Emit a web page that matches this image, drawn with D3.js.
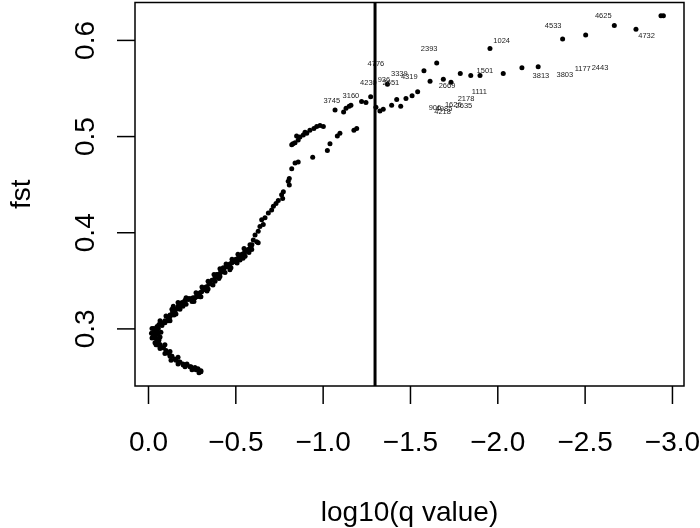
<!DOCTYPE html>
<html>
<head>
<meta charset="utf-8">
<script src="https://cdn.jsdelivr.net/npm/d3@7"></script>
<style>
  body { margin: 0; background: #fff; }
  svg { will-change: transform; }
  text { font-family: "Liberation Sans", Arial, Helvetica, sans-serif; }
</style>
</head>
<body>
<svg id="chart"></svg>
<script>
// log10(q value), fst, bottom tail first
const points = [
  [-0.303,0.255],[-0.286,0.257],[-0.269,0.259],[-0.240,0.260],[-0.212,0.262],[-0.183,0.265],
  [-0.160,0.267],[-0.136,0.271],[-0.110,0.275],[-0.088,0.280],[-0.069,0.283],[-0.050,0.286],
  [-0.040,0.290],[-0.034,0.293],[-0.040,0.297],[-0.059,0.300],[-0.078,0.304],[-0.097,0.306],
  [-0.116,0.309],[-0.126,0.312],[-0.141,0.317],[-0.155,0.319],[-0.173,0.323],[-0.193,0.326],
  [-0.212,0.329],[-0.231,0.330],[-0.250,0.331],[-0.269,0.332],[-0.288,0.335],[-0.307,0.338],
  [-0.326,0.342],[-0.336,0.343],[-0.355,0.347],[-0.374,0.350],[-0.393,0.356],[-0.412,0.357],
  [-0.431,0.363],[-0.451,0.364],[-0.479,0.368],[-0.498,0.371],[-0.517,0.373],[-0.531,0.375],
  [-0.550,0.378],[-0.565,0.381],[-0.584,0.383],[-0.594,0.382],
  [-0.026,0.295],[-0.029,0.291],[-0.034,0.300],[-0.057,0.294],[-0.063,0.288],[-0.074,0.296],
  [-0.052,0.283],[-0.097,0.283],[-0.126,0.276],[-0.172,0.270],[-0.223,0.263],[-0.275,0.257],
  [-0.126,0.308],[-0.160,0.315],[-0.200,0.323],[-0.252,0.328],[-0.298,0.333],[-0.344,0.341],
  [-0.384,0.349],[-0.424,0.359],[-0.464,0.366],[-0.510,0.371],[-0.538,0.377],[-0.573,0.380],
  [-0.595,0.387],[-0.556,0.375],[-0.527,0.371],[-0.469,0.361],[-0.412,0.354],[-0.279,0.333],
  [-0.145,0.323],[-0.069,0.281],[-0.126,0.271],[-0.202,0.262],
  // dense band, centre
  [-0.303,0.256],[-0.286,0.258],[-0.269,0.259],[-0.246,0.260],[-0.223,0.262],[-0.200,0.263],
  [-0.177,0.265],[-0.155,0.268],[-0.137,0.271],[-0.120,0.274],[-0.103,0.277],[-0.086,0.280],
  [-0.069,0.283],[-0.057,0.286],[-0.046,0.290],[-0.040,0.293],[-0.037,0.296],[-0.040,0.299],
  [-0.052,0.302],[-0.063,0.304],[-0.080,0.306],[-0.097,0.308],[-0.115,0.311],[-0.126,0.314],
  [-0.143,0.317],[-0.160,0.320],[-0.177,0.324],[-0.195,0.327],[-0.212,0.329],[-0.235,0.331],
  [-0.258,0.332],[-0.281,0.334],[-0.298,0.337],[-0.315,0.340],[-0.332,0.343],[-0.349,0.346],
  [-0.366,0.350],[-0.384,0.353],[-0.401,0.356],[-0.418,0.359],[-0.435,0.362],[-0.452,0.365],
  [-0.469,0.367],[-0.487,0.369],[-0.504,0.372],[-0.521,0.374],[-0.538,0.376],[-0.555,0.380],
  [-0.573,0.382],[-0.590,0.384],
  // dense band, vertex and edges
  [-0.020,0.295],[-0.023,0.290],[-0.023,0.300],[-0.057,0.296],[-0.069,0.291],[-0.046,0.283],
  [-0.292,0.254],[-0.252,0.257],[-0.212,0.260],[-0.172,0.263],[-0.132,0.267],[-0.097,0.274],
  [-0.069,0.279],[-0.040,0.285],
  [-0.080,0.303],[-0.115,0.308],[-0.149,0.314],[-0.183,0.320],[-0.218,0.325],[-0.263,0.328],
  [-0.303,0.333],[-0.338,0.339],[-0.372,0.345],[-0.406,0.352],[-0.441,0.358],[-0.475,0.363],
  [-0.510,0.368],[-0.544,0.373],[-0.578,0.379],
  [-0.069,0.308],[-0.103,0.313],[-0.137,0.320],[-0.172,0.327],[-0.218,0.332],[-0.275,0.337],
  [-0.309,0.343],[-0.344,0.349],[-0.378,0.356],[-0.412,0.362],[-0.447,0.367],[-0.481,0.372],
  [-0.515,0.377],[-0.550,0.383],[-0.584,0.387],
  // middle stretch
  [-0.613,0.397],[-0.603,0.392],[-0.622,0.390],[-0.631,0.389],[-0.631,0.401],[-0.641,0.406],
  [-0.660,0.408],[-0.651,0.413],[-0.670,0.415],[-0.689,0.420],[-0.708,0.423],[-0.718,0.427],
  [-0.733,0.430],[-0.746,0.433],[-0.771,0.435],[-0.765,0.439],[-0.775,0.442],[-0.809,0.449],
  [-0.803,0.453],[-0.809,0.456],[-0.823,0.466],[-0.842,0.472],[-0.860,0.473],
  // upper branch
  [-0.823,0.491],[-0.842,0.493],[-0.860,0.496],[-0.870,0.499],[-0.889,0.501],[-0.909,0.503],
  [-0.927,0.506],[-0.950,0.508],[-0.966,0.510],[-0.985,0.511],[-1.004,0.510],[-0.851,0.500],
  [-0.899,0.504],[-0.830,0.492],
  // lower branch
  [-0.943,0.478],[-1.027,0.485],[-1.042,0.492],[-1.084,0.500],[-1.099,0.503],[-1.179,0.506],
  [-1.195,0.508],
  // near the cut-off
  [-1.071,0.527],[-1.120,0.525],[-1.134,0.529],[-1.152,0.531],[-1.162,0.532],[-1.223,0.536],
  [-1.248,0.535],[-1.275,0.541],
  // past the cut-off
  [-1.305,0.530],[-1.328,0.526],[-1.347,0.528],[-1.371,0.554],[-1.395,0.532],[-1.424,0.538],
  [-1.447,0.531],[-1.477,0.539],[-1.512,0.542],[-1.544,0.546],[-1.580,0.568],[-1.615,0.557],
  [-1.653,0.576],[-1.691,0.559],[-1.735,0.556],[-1.788,0.565],[-1.848,0.563],[-1.901,0.563],
  [-1.958,0.591],[-2.034,0.565],[-2.141,0.571],[-2.234,0.572],[-2.374,0.601],[-2.506,0.605],
  [-2.670,0.615],[-2.794,0.611],[-2.937,0.625],[-2.951,0.625]
];

// text labels and where they sit (data units)
const labelIds = ["4625","4533","4732","1024","2393","4776","1177","2443","3803","3813","1501",
  "3339","4319","4230","936","2651","2669","1111","2178","2635","1626","906","4985","4218","3745","3160"];
const labelX = [-2.607,-2.320,-2.855,-2.025,-1.610,-1.305,-2.489,-2.588,-2.387,-2.250,-1.929,
  -1.439,-1.496,-1.262,-1.351,-1.391,-1.712,-1.897,-1.821,-1.809,-1.748,-1.643,-1.695,-1.687,-1.052,-1.162];
const labelY = [0.625,0.615,0.605,0.600,0.591,0.576,0.570,0.571,0.564,0.563,0.568,
  0.565,0.562,0.556,0.559,0.556,0.553,0.546,0.539,0.532,0.533,0.530,0.529,0.526,0.537,0.542];

const xTicks = [0, -0.5, -1.0, -1.5, -2.0, -2.5, -3.0];
const yTicks = [0.3, 0.4, 0.5, 0.6];
const xLim = [0.0744, -3.069];
const yLim = [0.2401, 0.6389];
const cutoff = -1.3;

const width = 700, height = 528;
const box = { left: 135, right: 684, top: 2.5, bottom: 386 };

const svg = d3.select("#chart").attr("width", width).attr("height", height);

const x = d3.scaleLinear().domain(xLim).range([box.left, box.right]);
const y = d3.scaleLinear().domain(yLim).range([box.bottom, box.top]);

svg.append("g")
  .selectAll("circle").data(points).join("circle")
  .attr("cx", d => x(d[0]))
  .attr("cy", d => y(d[1]))
  .attr("r", 2.5)
  .attr("fill", "#000");

svg.append("g")
  .selectAll("text").data(labelIds).join("text")
  .attr("x", (d, i) => x(labelX[i]))
  .attr("y", (d, i) => y(labelY[i]))
  .attr("dy", "0.35em")
  .attr("text-anchor", "middle")
  .attr("font-size", 7.5)
  .attr("fill", "#222")
  .text(d => d);

svg.append("line")
  .attr("x1", x(cutoff)).attr("x2", x(cutoff))
  .attr("y1", box.top).attr("y2", box.bottom)
  .attr("stroke", "#000").attr("stroke-width", 3);

svg.append("rect")
  .attr("x", box.left).attr("y", box.top)
  .attr("width", box.right - box.left).attr("height", box.bottom - box.top)
  .attr("fill", "none").attr("stroke", "#000").attr("stroke-width", 1.5);

const xAxis = d3.axisBottom(x).tickValues(xTicks).tickSize(18).tickPadding(27)
  .tickFormat(d3.format(".1f"));
const gx = svg.append("g").attr("transform", `translate(0,${box.bottom})`).call(xAxis);
gx.select(".domain").remove();
gx.selectAll("line").attr("stroke-width", 1.5);
gx.selectAll("text").attr("font-size", 28).attr("font-family", null).attr("fill", "#000");

const yAxis = d3.axisLeft(y).tickValues(yTicks).tickSize(18).tickFormat(d3.format(".1f"));
const gy = svg.append("g").attr("transform", `translate(${box.left},0)`).call(yAxis);
gy.select(".domain").remove();
gy.selectAll("line").attr("stroke-width", 1.5);
gy.selectAll("text")
  .attr("x", null).attr("dy", null)
  .attr("text-anchor", "middle")
  .attr("transform", `translate(${94 - box.left},0) rotate(-90)`)
  .attr("font-size", 28).attr("font-family", null).attr("fill", "#000");

svg.append("text")
  .attr("transform", `translate(${(box.left + box.right) / 2},521)`)
  .attr("text-anchor", "middle")
  .attr("font-size", 28)
  .text("log10(q value)");

svg.append("text")
  .attr("transform", `translate(30,${(box.top + box.bottom) / 2}) rotate(-90)`)
  .attr("text-anchor", "middle")
  .attr("font-size", 28)
  .text("fst");
</script>
</body>
</html>
